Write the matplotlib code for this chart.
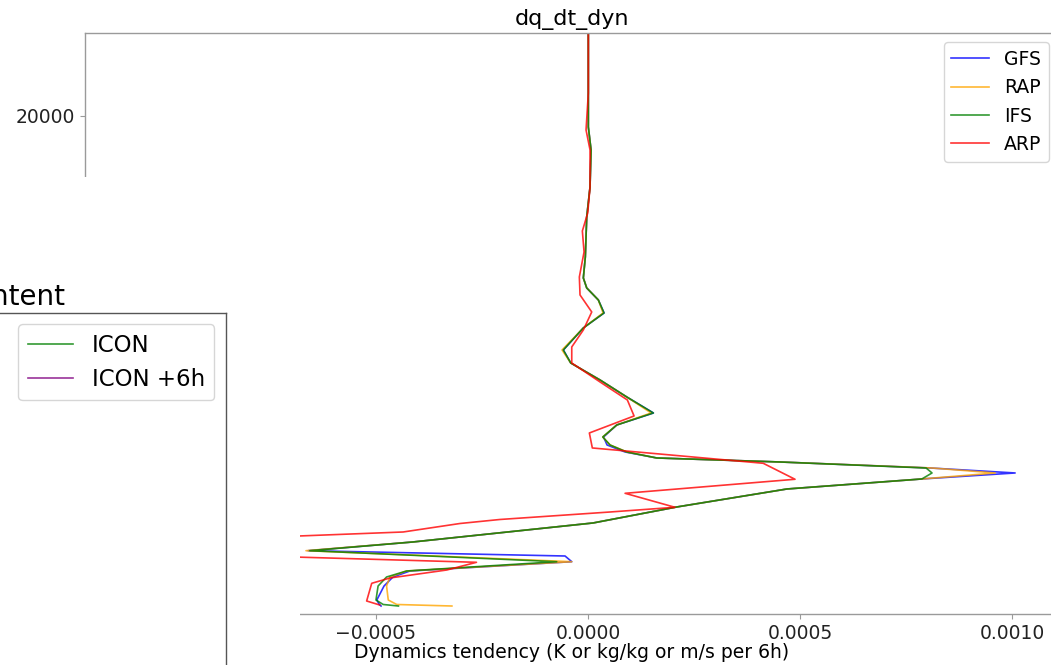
import matplotlib
matplotlib.use("Agg")
import matplotlib.pyplot as plt
from matplotlib.patches import Rectangle

# ---------------- data ----------------
# shared model levels (m) for GFS / RAP / IFS
heights = [23330, 19558, 18634, 17148, 15944, 14337, 13494, 13092, 12610, 12088,
           11486, 10602, 10080, 9397, 8715, 8072, 7590, 7108, 6787, 6506,
           6265, 6104, 5863, 5663, 5422, 5020, 4297, 3655, 2892, 2542,
           2329, 2100, 1727, 1486, 1124, 562, 382, 321]

gfs = [7e-7, 7e-7, 7.1e-6, 4.7e-6, -3.1e-6, -6.4e-6, -1.11e-5, -3.1e-6, 2.43e-5, 3.77e-5,
       -1.11e-5, -5.83e-5, -4.08e-5, 2.83e-5, 9.13e-5, 1.54e-4, 6.77e-5, 3.66e-5, 4.48e-5, 8.73e-5,
       1.62e-4, 4.53e-4, 8.07e-4, 1.007e-3, 7.87e-4, 4.69e-4, 2.09e-4, 1.18e-5, -4.13e-4, -6.60e-4,
       -5.42e-5, -3.84e-5, -4.20e-4, -4.60e-4, -4.81e-4, -4.98e-4, -4.92e-4, -4.88e-4]

rap = [7e-7, 7e-7, 7.1e-6, 4.7e-6, -3.1e-6, -6.4e-6, -1.11e-5, -3.1e-6, 2.43e-5, 3.54e-5,
       -1.11e-5, -6.13e-5, -4.08e-5, 2.83e-5, 9.13e-5, 1.486e-4, 6.77e-5, 3.47e-5, 5.19e-5, 9.13e-5,
       1.62e-4, 4.53e-4, 8.11e-4, 9.60e-4, 7.87e-4, 4.69e-4, 2.09e-4, 1.18e-5, -4.13e-4, -6.65e-4,
       -3.60e-4, -3.84e-5, -4.28e-4, -4.67e-4, -4.75e-4, -4.71e-4, -4.51e-4, -3.21e-4]

ifs = [7e-7, 7e-7, 7.1e-6, 4.7e-6, -3.1e-6, -6.4e-6, -1.11e-5, -3.1e-6, 2.43e-5, 3.77e-5,
       -1.11e-5, -5.83e-5, -4.08e-5, 2.83e-5, 9.13e-5, 1.54e-4, 6.77e-5, 3.47e-5, 5.19e-5, 9.13e-5,
       1.62e-4, 4.53e-4, 7.97e-4, 8.11e-4, 7.87e-4, 4.69e-4, 2.09e-4, 1.18e-5, -4.13e-4, -6.56e-4,
       -3.75e-4, -7.38e-5, -4.28e-4, -4.75e-4, -4.95e-4, -5.00e-4, -4.83e-4, -4.47e-4]

heights_arp = [23330, 20923, 19437, 18634, 17148, 16104, 15381, 14538, 13534, 12811,
               12128, 11405, 10723, 10080, 9317, 8594, 7952, 7269, 6667, 6052,
               5410, 4847, 4285, 4096, 3795, 3634, 3293, 3072, 2329, 2076,
               1767, 1446, 1233, 522, 361]
arp = [7e-7, 7e-7, -4.7e-6, 4.7e-6, 4.7e-6, -7e-7, -1.34e-5, -9.4e-6, -2.05e-5, -1.89e-5,
       8.7e-6, -1.11e-5, -3.84e-5, -3.84e-5, 2.83e-5, 9.27e-5, 1.085e-4, 3.1e-6, 1.01e-5, 4.13e-4,
       4.88e-4, 8.73e-5, 2.05e-4, 5.19e-5, -2.08e-4, -3.02e-4, -4.36e-4, -7.74e-4, -7.74e-4, -2.63e-4,
       -3.33e-4, -4.67e-4, -5.10e-4, -5.22e-4, -4.91e-4]

series_names = ["GFS", "RAP", "IFS", "ARP"]
series_colors = ["blue", "orange", "green", "red"]

icon_names = ["ICON", "ICON +6h"]
icon_colors = ["green", "purple"]

main_title = "dq_dt_dyn"
x_label = "Dynamics tendency (K or kg/kg or m/s per 6h)"
side_title = "Water vapour content"

# ---------------- figure ----------------
W, H = 1051, 665
fig = plt.figure(figsize=(W / 100, H / 100), dpi=100)
plt.rcParams["font.family"] = "DejaVu Sans"

def fx(px):
    return px / W

def fy(py):
    return (H - py) / H

spine_c = "#9a9a9a"

# main axes
axc = fig.add_axes([fx(85), fy(614), fx(1058) - fx(85), fy(33) - fy(614)], zorder=0)
series_x = [gfs, rap, ifs, arp]
series_y = [heights, heights, heights, heights_arp]
for name, col, xs, ys in zip(series_names, series_colors, series_x, series_y):
    axc.plot(xs, ys, color=col, lw=1.2, alpha=0.8, label=name)

axc.set_xlim(-0.001186, 0.001108)
axc.set_ylim(0, 23330)
for s in axc.spines.values():
    s.set_color(spine_c)
    s.set_linewidth(1.0)
axc.tick_params(colors=spine_c, labelcolor="#222222", labelsize=13.5)
axc.set_title(main_title, fontsize=16)
axc.set_xlabel(x_label, fontsize=13.5, labelpad=0)
axc.legend(loc="upper right", fontsize=13.5)

# white cover hiding lower-left portion
cover = Rectangle((0, 0), fx(300), fy(177), transform=fig.transFigure,
                  facecolor="white", edgecolor="none", zorder=1)
fig.add_artist(cover)

# side axes (only partly visible)
axb = fig.add_axes([fx(-400), fy(900), fx(225.7) - fx(-400), fy(313) - fy(900)], zorder=2)
for name, col in zip(icon_names, icon_colors):
    axb.plot([], [], color=col, lw=1.2, alpha=0.8, label=name)
axb.set_xticks([])
axb.set_yticks([])
for s in axb.spines.values():
    s.set_color("#555555")
    s.set_linewidth(1.0)
tb = axb.set_title(side_title, fontsize=20)
axb.legend(loc="upper right", fontsize=16.5)

# position side axes so that its centred title ends near x=65 px
fig.canvas.draw()
r = fig.canvas.get_renderer()
w = tb.get_window_extent(r).width
left_px = 2 * (65 - w / 2) - 225.7
axb.set_position([fx(left_px), fy(900), fx(225.7) - fx(left_px), fy(313) - fy(900)])

fig.savefig("out.png", dpi=100)
